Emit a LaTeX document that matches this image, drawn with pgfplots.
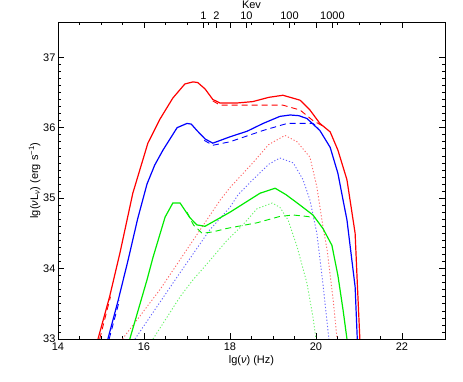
\documentclass[border=0pt]{standalone}
\usepackage{pgfplots}
\pgfplotsset{compat=1.18}
\usepackage{fontspec}
\setmainfont{Liberation Sans}
\definecolor{pred}{RGB}{255,0,0}
\definecolor{pblue}{RGB}{0,0,255}
\definecolor{pgreen}{RGB}{0,235,0}
\begin{document}
\begin{tikzpicture}
\path[use as bounding box] (-58pt,-43pt) rectangle (405pt,339pt);
\pgfplotsset{
  every tick label/.append style={font=\fontsize{11}{13}\selectfont},
  label style={font=\fontsize{11}{13}\selectfont},
  /pgf/number format/assume math mode=true,
}
\begin{axis}[
  at={(0pt,0pt)}, anchor=south west,
  scale only axis, width=387pt, height=317pt,
  xmin=14, xmax=23, ymin=33, ymax=37.5,
  xtick={14,16,18,20,22}, minor x tick num=3,
  ytick={33,34,35,36,37}, minor y tick num=9,
  xtick pos=both, xticklabel pos=lower,
  ytick pos=both, yticklabel pos=left,
  major tick length=6pt, minor tick length=3pt,
  tick style={black, line width=0.6pt},
  axis line style={line width=0.8pt},
  xlabel={lg(\textit{ν}) (Hz)},
  ylabel={lg(\textit{ν}L\textsubscript{\textit{ν}}) (erg s\textsuperscript{−1})},
  xlabel style={yshift=2pt},
  ylabel style={yshift=-4pt},
  yticklabel style={xshift=1pt},
  clip=true,
]
% red solid
\addplot[pred, line width=1.2pt] coordinates {
(14.93,33.0) (15.2,33.6) (15.44,34.22) (15.74,35.07) (16.09,35.78) (16.37,36.12) (16.67,36.42) (16.95,36.62) (17.14,36.65) (17.25,36.64) (17.42,36.55) (17.6,36.4) (17.77,36.35) (18.16,36.35) (18.53,36.37) (18.9,36.43) (19.23,36.46) (19.63,36.39) (19.86,36.25) (20.09,36.06) (20.33,35.94) (20.51,35.68) (20.72,35.26) (20.91,34.5) (20.96,33.8) (21.02,33.0)
};
% red dashed
\addplot[pred, line width=0.9pt, dash pattern=on 6pt off 4pt] coordinates {
(14.97,33.0) (15.22,33.6)
};
\addplot[pred, line width=0.9pt, dash pattern=on 6pt off 4pt] coordinates {
(17.6,36.38) (17.77,36.32) (18.0,36.32) (18.7,36.32) (19.23,36.32) (19.63,36.25) (19.93,36.1) (20.14,36.03)
};
% red dotted
\addplot[pred!60, line width=0.9pt, dash pattern=on 1.2pt off 2pt] coordinates {
(15.5,33.0) (16.37,33.7) (17.14,34.4) (17.77,34.97) (18.0,35.15) (18.53,35.5) (18.9,35.76) (19.28,35.89) (19.56,35.8) (19.86,35.58) (20.02,35.16) (20.16,34.6) (20.26,34.26) (20.4,33.55) (20.49,33.0)
};
% blue solid
\addplot[pblue, line width=1.2pt] coordinates {
(15.16,33.0) (15.4,33.55) (15.63,34.12) (15.85,34.7) (16.07,35.2) (16.25,35.47) (16.44,35.68) (16.77,36.0) (17.0,36.06) (17.1,36.05) (17.23,35.96) (17.42,35.84) (17.6,35.78) (18.0,35.87) (18.4,35.95) (18.77,36.06) (19.16,36.16) (19.4,36.18) (19.6,36.17) (19.79,36.13) (20.09,35.96) (20.33,35.72) (20.51,35.35) (20.63,34.97) (20.72,34.69) (20.91,33.74) (20.96,33.0)
};
% blue dashed
\addplot[pblue, line width=0.9pt, dash pattern=on 6pt off 4pt] coordinates {
(15.19,33.0) (15.43,33.55)
};
\addplot[pblue, line width=0.9pt, dash pattern=on 6pt off 4pt] coordinates {
(17.4,35.82) (17.6,35.75) (18.0,35.8) (18.77,35.96) (19.33,36.06) (19.93,36.06) (20.05,36.0)
};
% blue dotted
\addplot[pblue!60, line width=0.9pt, dash pattern=on 1.2pt off 2pt] coordinates {
(15.79,33.0) (16.77,33.88) (17.53,34.55) (18.0,34.87) (18.19,35.05) (18.53,35.26) (18.9,35.48) (19.16,35.57) (19.47,35.5) (19.7,35.26) (19.86,34.97) (20.02,34.5) (20.16,33.79) (20.3,33.0)
};
% green solid
\addplot[pgreen, line width=1.2pt] coordinates {
(15.67,33.0) (16.07,33.84) (16.21,34.16) (16.49,34.73) (16.67,34.93) (16.84,34.93) (17.07,34.72) (17.23,34.62) (17.42,34.6) (18.0,34.8) (18.7,35.07) (19.05,35.14) (19.3,35.05) (19.63,34.9) (19.93,34.76) (20.16,34.57) (20.37,34.33) (20.51,33.9) (20.63,33.41) (20.72,33.0)
};
% green dashed
\addplot[pgreen, line width=0.9pt, dash pattern=on 6pt off 4pt] coordinates {
(17.0,34.8) (17.15,34.62) (17.35,34.5) (17.6,34.52) (17.93,34.57) (18.63,34.65) (19.16,34.74) (19.47,34.76) (19.79,34.74) (19.98,34.72)
};
% green dotted
\addplot[pgreen!60, line width=0.9pt, dash pattern=on 1.2pt off 2pt] coordinates {
(16.21,33.0) (16.84,33.6) (17.14,33.84) (17.47,34.07) (17.93,34.4) (18.3,34.62) (18.63,34.85) (18.98,34.93) (19.16,34.87) (19.35,34.69) (19.56,34.31) (19.79,33.79) (19.93,33.31) (20.0,33.0)
};
\end{axis}
\begin{axis}[
  at={(0pt,0pt)}, anchor=south west,
  scale only axis, width=387pt, height=317pt,
  xmin=14, xmax=23, ymin=33, ymax=37.5,
  axis x line*=top, axis y line=none,
  xtick={17.383,17.684,18.383,19.383,20.383},
  xticklabels={1,2,10,100,1000},
  xticklabel style={yshift=-1.5pt},
  major tick length=6pt,
  tick style={black, line width=0.6pt},
  xlabel={Kev},
  xlabel style={yshift=-3.5pt},
]
\end{axis}
\end{tikzpicture}
\end{document}
